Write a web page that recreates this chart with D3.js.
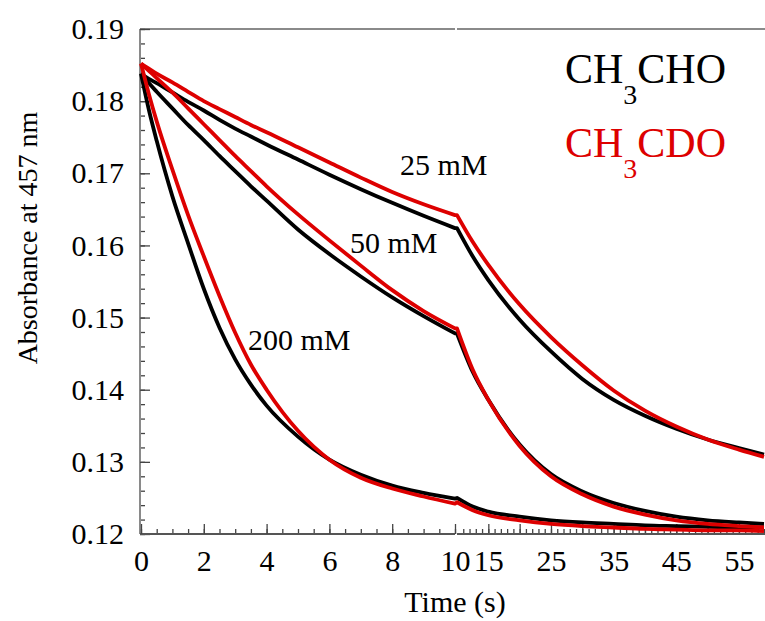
<!DOCTYPE html>
<html>
<head>
<meta charset="utf-8">
<script src="https://cdn.jsdelivr.net/npm/d3@7"></script>
<style>
  body { margin: 0; background: #fff; }
  svg text { font-family: "Liberation Serif", "Tinos", "Times New Roman", "DejaVu Serif", serif !important; }
</style>
</head>
<body>
<div id="chart"></div>
<script>
// Time grids (s) for the two parts of the broken x axis.
const tLeft = [0, 0.25, 0.5, 1, 1.5, 2, 2.5, 3, 3.5, 4, 5, 6, 7, 8, 9, 10];
const tRight = [10, 12.5, 15, 20, 25, 30, 35, 40, 45, 50, 55, 59];

// CH3CHO (black) traces, absorbance at 457 nm.
const cho25L = [0.1838, 0.1831, 0.1825, 0.1812, 0.1799, 0.1787, 0.1774, 0.1762, 0.1751, 0.1740, 0.1719, 0.1698, 0.1678, 0.1659, 0.1641, 0.1624];
const cho25R = [0.1624, 0.1585, 0.1552, 0.1497, 0.1453, 0.1415, 0.1386, 0.1364, 0.1346, 0.1331, 0.1319, 0.1310];
const cho50L = [0.1838, 0.1825, 0.1813, 0.1790, 0.1767, 0.1746, 0.1724, 0.1703, 0.1682, 0.1662, 0.1622, 0.1588, 0.1557, 0.1528, 0.1502, 0.1478];
const cho50R = [0.1478, 0.1425, 0.1386, 0.1324, 0.1283, 0.1259, 0.1243, 0.1232, 0.1224, 0.1219, 0.1216, 0.1214];
const cho200L = [0.1838, 0.1788, 0.1745, 0.1668, 0.1603, 0.1540, 0.1486, 0.1442, 0.1407, 0.1378, 0.1335, 0.1303, 0.1282, 0.1267, 0.1257, 0.1249];
const cho200R = [0.1250, 0.1238, 0.1231, 0.1224, 0.1219, 0.1216, 0.1214, 0.1212, 0.1211, 0.1210, 0.1209, 0.1209];

// CH3CDO (red) traces.
const cdo25L = [0.1852, 0.1845, 0.1838, 0.1826, 0.1813, 0.1800, 0.1789, 0.1778, 0.1767, 0.1757, 0.1736, 0.1715, 0.1694, 0.1674, 0.1657, 0.1642];
const cdo25R = [0.1642, 0.1605, 0.1573, 0.1518, 0.1473, 0.1434, 0.1399, 0.1371, 0.1349, 0.1331, 0.1317, 0.1307];
const cdo50L = [0.1852, 0.1842, 0.1832, 0.1812, 0.1790, 0.1768, 0.1746, 0.1724, 0.1703, 0.1682, 0.1643, 0.1607, 0.1572, 0.1538, 0.1509, 0.1485];
const cdo50R = [0.1485, 0.1428, 0.1386, 0.1322, 0.1280, 0.1255, 0.1238, 0.1227, 0.1219, 0.1214, 0.1211, 0.1209];
const cdo200L = [0.1852, 0.1810, 0.1772, 0.1705, 0.1642, 0.1585, 0.1530, 0.1479, 0.1435, 0.1400, 0.1343, 0.1303, 0.1278, 0.1263, 0.1252, 0.1242];
const cdo200R = [0.1244, 0.1233, 0.1226, 0.1219, 0.1214, 0.1211, 0.1209, 0.1207, 0.1206, 0.1205, 0.1205, 0.1204];

// Tick labels.
const yTicks = [0.12, 0.13, 0.14, 0.15, 0.16, 0.17, 0.18, 0.19];
const xLeftTicks = [0, 2, 4, 6, 8, 10];
const xRightLabels = [15, 25, 35, 45, 55];
const concLabels = ["25 mM", "50 mM", "200 mM"];

const width = 765;
const height = 621;

const svg = d3.select("#chart")
    .append("svg")
    .attr("width", width)
    .attr("height", height);

// Scales: two linear pieces along x, one along y.
const xL = d3.scaleLinear().domain([0, 10]).range([141, 455]);
const xR = d3.scaleLinear().domain([10, 59]).range([457, 764]);
const y = d3.scaleLinear().domain([0.12, 0.19]).range([534, 29]);

const axisGrey = "#8a8a8a";

// Frame: top line (broken).
svg.append("path")
    .attr("d", `M140,29H455M457,29H765`)
    .attr("stroke", axisGrey)
    .attr("stroke-width", 2)
    .attr("fill", "none");

// Y axis, ticks pointing inward.
const yMinor = d3.range(0, 36).map(i => 0.12 + i * 0.002);
svg.append("g")
    .attr("transform", "translate(140,0)")
    .call(d3.axisLeft(y).tickValues(yMinor).tickSize(-5).tickFormat(""))
    .call(g => g.select(".domain").remove());
const yAxis = svg.append("g")
    .attr("transform", "translate(140,0)")
    .call(d3.axisLeft(y).tickValues(yTicks).tickSize(-10).tickSizeOuter(0)
        .tickPadding(16).tickFormat(d3.format(".2f")));

// X axis, left part (0-10 s).
const xLeftMinor = d3.range(0, 21).map(i => i * 0.5);
svg.append("g")
    .attr("transform", "translate(0,534)")
    .call(d3.axisBottom(xL).tickValues(xLeftMinor).tickSize(-5).tickFormat(""))
    .call(g => g.select(".domain").remove());
const xAxisL = svg.append("g")
    .attr("transform", "translate(0,534)")
    .call(d3.axisBottom(xL).tickValues(xLeftTicks).tickSize(-10).tickSizeOuter(0)
        .tickPadding(16));

// X axis, right part (10-59 s).
const xRightMinor = d3.range(11, 60);
const xRightMajor = d3.range(15, 60, 5);
svg.append("g")
    .attr("transform", "translate(0,534)")
    .call(d3.axisBottom(xR).tickValues(xRightMinor).tickSize(-5).tickFormat(""))
    .call(g => g.select(".domain").remove());
svg.append("g")
    .attr("transform", "translate(0,534)")
    .call(d3.axisBottom(xR).tickValues(xRightMajor).tickSize(-10).tickFormat(""))
    .call(g => g.select(".domain").remove());
const xAxisR = svg.append("g")
    .attr("transform", "translate(0,534)")
    .call(d3.axisBottom(xR).tickValues(xRightLabels).tickSize(0).tickSizeOuter(0)
        .tickPadding(16));
xAxisR.select(".domain").attr("d", "M457,0H765");

svg.selectAll("g").attr("font-family", null);
svg.selectAll(".domain").attr("stroke", axisGrey).attr("stroke-width", 2);
svg.selectAll(".tick line").attr("stroke", "#444").attr("stroke-width", 1.3);
svg.selectAll(".tick text")
    .attr("font-size", 30)
    .attr("fill", "#000");
yAxis.select(".domain").attr("d", "M0,29V534");
xAxisL.select(".domain").attr("d", "M140,0H455").attr("stroke", "#555");
xAxisR.select(".domain").attr("stroke", "#555");

// Traces: each drawn as two pieces so the kink at the axis break stays sharp.
const line = d3.line()
    .x(d => d[0])
    .y(d => y(d[1]))
    .curve(d3.curveMonotoneX);

function pieces(left, right) {
    return [
        tLeft.map((t, i) => [xL(t), left[i]]),
        tRight.map((t, i) => [xR(t), right[i]])
    ];
}

const traces = [
    { color: "#000", parts: pieces(cho25L, cho25R) },
    { color: "#000", parts: pieces(cho50L, cho50R) },
    { color: "#000", parts: pieces(cho200L, cho200R) },
    { color: "#dd0000", parts: pieces(cdo25L, cdo25R) },
    { color: "#dd0000", parts: pieces(cdo50L, cdo50R) },
    { color: "#dd0000", parts: pieces(cdo200L, cdo200R) }
];

svg.selectAll(".trace")
    .data(traces)
    .enter()
    .append("path")
    .attr("class", "trace")
    .attr("d", d => line(d.parts[0]) + line(d.parts[1]).replace(/^M/, "L"))
    .attr("fill", "none")
    .attr("stroke", d => d.color)
    .attr("stroke-width", 3.8)
    .attr("stroke-linejoin", "round");

// Concentration labels.
const concPos = [[400, 175], [350, 253], [248, 350]];
svg.selectAll(".conc")
    .data(concLabels)
    .enter()
    .append("text")
    .attr("class", "conc")
    .attr("x", (d, i) => concPos[i][0])
    .attr("y", (d, i) => concPos[i][1])
    .attr("font-size", 30)
    .text(d => d);

// Legend with subscripts.
function formula(yBase, color, tail) {
    const t = svg.append("text")
        .attr("x", 565)
        .attr("y", yBase)
        .attr("font-size", 42)
        .attr("fill", color);
    t.append("tspan").text("CH");
    t.append("tspan").attr("dy", 21).attr("font-size", 28).text("3");
    t.append("tspan").attr("dy", -21).text(tail);
}
formula(83, "#000", "CHO");
formula(157, "#dd0000", "CDO");

// Axis titles.
svg.append("text")
    .attr("x", 455)
    .attr("y", 612)
    .attr("text-anchor", "middle")
    .attr("font-size", 30)
    .text("Time (s)");

svg.append("text")
    .attr("transform", "translate(37,238) rotate(-90)")
    .attr("text-anchor", "middle")
    .attr("font-size", 28)
    .text("Absorbance at 457 nm");
</script>
</body>
</html>
